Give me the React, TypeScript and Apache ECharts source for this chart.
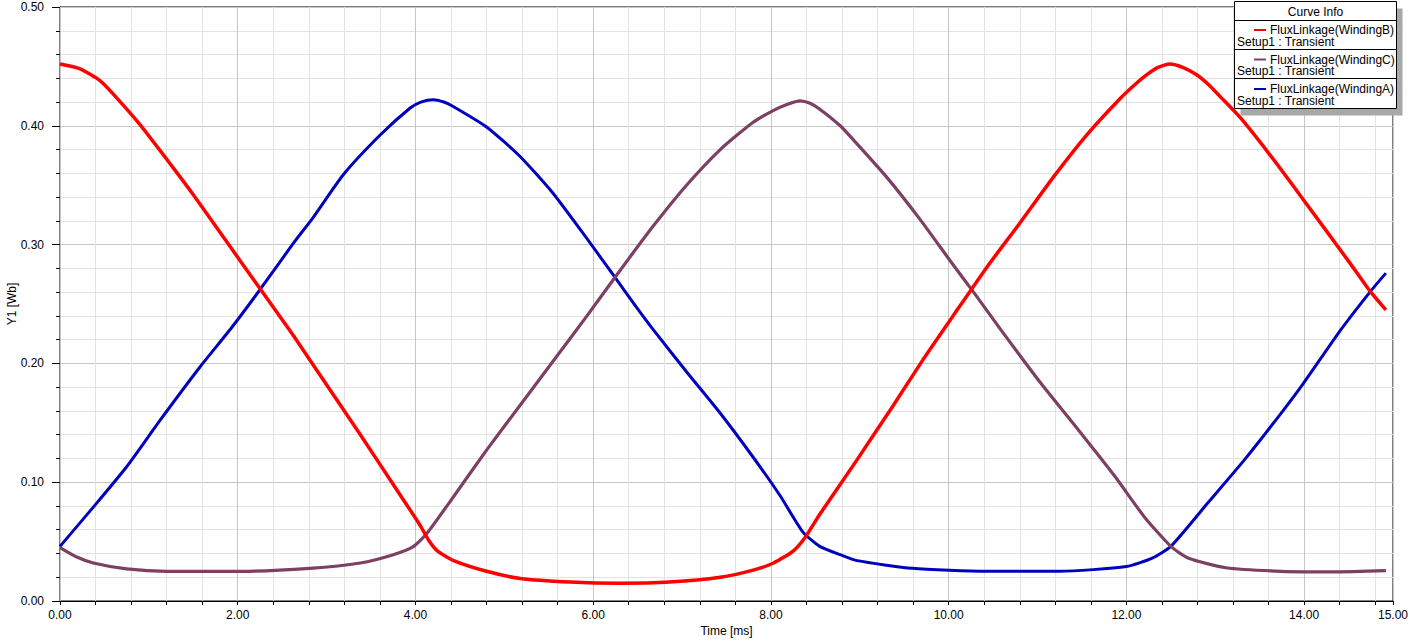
import React, { useEffect, useRef } from "react";
import * as echarts from "echarts";

// ---- data ----
const timeB = [0, 0.225, 0.45, 0.62, 0.9, 1.24, 1.5, 1.88, 2.25, 2.63, 3.0, 3.38, 3.75, 4.05, 4.15, 4.25, 4.43, 4.8, 5.18, 5.74, 6.3, 6.86, 7.43, 7.8, 8.03, 8.25, 8.38, 8.55, 8.97, 9.38, 9.71, 10.05, 10.43, 10.8, 11.18, 11.55, 11.93, 12.1, 12.23, 12.35, 12.49, 12.64, 12.79, 12.92, 13.05, 13.28, 13.6, 13.95, 14.52, 14.74, 14.92];
const fluxB = [0.452, 0.448, 0.438, 0.425, 0.401, 0.368, 0.342, 0.302, 0.263, 0.223, 0.182, 0.140, 0.098, 0.064, 0.051, 0.042, 0.034, 0.025, 0.019, 0.016, 0.015, 0.016, 0.020, 0.026, 0.032, 0.042, 0.053, 0.073, 0.119, 0.165, 0.203, 0.240, 0.281, 0.318, 0.357, 0.392, 0.423, 0.435, 0.443, 0.449, 0.452, 0.449, 0.443, 0.435, 0.425, 0.407, 0.377, 0.342, 0.284, 0.261, 0.245];

const timeC = [0, 0.19, 0.375, 0.75, 1.2, 2.03, 2.81, 3.38, 3.75, 3.98, 4.13, 4.43, 4.8, 5.18, 5.55, 5.93, 6.3, 6.68, 7.05, 7.43, 7.8, 8.03, 8.18, 8.33, 8.44, 8.55, 8.78, 8.93, 9.3, 9.68, 10.05, 10.28, 10.59, 11.04, 11.46, 11.87, 12.2, 12.5, 12.7, 13.12, 13.74, 14.36, 14.92];
const fluxC = [0.045, 0.037, 0.032, 0.027, 0.025, 0.025, 0.0275, 0.032, 0.039, 0.046, 0.057, 0.088, 0.127, 0.165, 0.202, 0.240, 0.278, 0.316, 0.350, 0.380, 0.403, 0.413, 0.418, 0.421, 0.419, 0.414, 0.400, 0.388, 0.357, 0.321, 0.283, 0.260, 0.228, 0.183, 0.144, 0.105, 0.071, 0.046, 0.036, 0.028, 0.025, 0.0245, 0.0255];

const timeA = [0, 0.375, 0.75, 1.125, 1.575, 1.93, 2.25, 2.625, 2.85, 3.19, 3.6, 3.94, 4.06, 4.2, 4.32, 4.43, 4.8, 5.18, 5.55, 5.93, 6.23, 6.49, 6.68, 7.05, 7.43, 7.8, 8.1, 8.36, 8.55, 8.78, 8.97, 9.59, 10.42, 11.25, 12.0, 12.29, 12.5, 12.91, 13.33, 13.74, 13.99, 14.41, 14.74, 14.92];
const fluxA = [0.046, 0.079, 0.113, 0.152, 0.197, 0.230, 0.262, 0.301, 0.323, 0.359, 0.392, 0.415, 0.420, 0.422, 0.420, 0.416, 0.399, 0.374, 0.343, 0.305, 0.274, 0.247, 0.228, 0.193, 0.158, 0.121, 0.089, 0.058, 0.046, 0.039, 0.034, 0.0275, 0.025, 0.025, 0.029, 0.036, 0.046, 0.082, 0.119, 0.158, 0.183, 0.228, 0.260, 0.276];

const curveNames = ["FluxLinkage(WindingB)", "FluxLinkage(WindingC)", "FluxLinkage(WindingA)"];
const curveColors = ["#ff0000", "#7d4063", "#0000bf"];
const setupLabel = "Setup1 : Transient";
const legendTitle = "Curve Info";
const xAxisName = "Time [ms]";
const yAxisName = "Y1 [Wb]";

const FONT = "'Liberation Sans', Arial, sans-serif";

const zip = (t: number[], v: number[]) => t.map((x, i) => [x, v[i]]);

export default function App() {
  const ref = useRef<HTMLDivElement>(null);
  useEffect(() => {
    if (!ref.current) return;
    const chart = echarts.init(ref.current, null, { renderer: "svg" });

    const legendEls: any[] = [];
    const bx = 1234.5, by = 1.5, bw = 162, bh = 107;
    legendEls.push({ type: "rect", shape: { x: bx + 6, y: by + 7, width: bw, height: bh }, style: { fill: "#a8a8a8" }, z: 100 });
    legendEls.push({ type: "rect", shape: { x: bx, y: by, width: bw, height: bh }, style: { fill: "#fff", stroke: "#000", lineWidth: 1 }, z: 101 });
    legendEls.push({ type: "text", x: bx + bw / 2, y: 11.5, style: { text: legendTitle, font: `12px ${FONT}`, fill: "#000", align: "center", verticalAlign: "middle" }, z: 102 });
    const seps = [20.5, 49.5, 78.5];
    seps.forEach((y) => legendEls.push({ type: "line", shape: { x1: bx, y1: y, x2: bx + bw, y2: y }, style: { stroke: "#000", lineWidth: 1 }, z: 102 }));
    curveNames.forEach((name, i) => {
      const y = 30 + 29.5 * i;
      legendEls.push({ type: "line", shape: { x1: 1254, y1: y, x2: 1266, y2: y }, style: { stroke: curveColors[i], lineWidth: 2 }, z: 102 });
      legendEls.push({ type: "text", x: 1270, y, style: { text: name, font: `12px ${FONT}`, fill: "#000", verticalAlign: "middle" }, z: 102 });
      legendEls.push({ type: "text", x: 1237, y: y + 11.5, style: { text: setupLabel, font: `12px ${FONT}`, fill: "#000", verticalAlign: "middle" }, z: 102 });
    });

    const option: any = {
      animation: false,
      backgroundColor: "#fff",
      textStyle: { fontFamily: FONT },
      grid: { left: 60, right: 26, top: 7, bottom: 40, containLabel: false, outerBoundsMode: "none", show: true, borderColor: "#000", borderWidth: 1, backgroundColor: "transparent" },
      xAxis: [
        {
          type: "value", min: 0, max: 15, interval: 0.4, z: 0,
          axisLine: { show: false },
          axisLabel: { show: false },
          axisTick: { show: true, length: 4, lineStyle: { color: "#000" } },
          splitLine: { show: true, lineStyle: { color: "#e3e3e3", width: 1 } },
        },
        {
          type: "value", min: 0, max: 15, interval: 2, z: 1, position: "bottom",
          name: xAxisName, nameLocation: "middle", nameGap: 24, nameMoveOverlap: false,
          nameTextStyle: { color: "#000", fontSize: 12, fontFamily: FONT },
          axisLine: { show: true, lineStyle: { color: "#000", width: 1 } },
          axisTick: { show: false },
          axisLabel: { color: "#000", fontSize: 12, fontFamily: FONT, margin: 8, formatter: (v: number) => v.toFixed(2) },
          splitLine: { show: true, lineStyle: { color: "#c6c6c6", width: 1 } },
        },
      ],
      yAxis: {
        type: "value", min: 0, max: 0.5, interval: 0.1,
        name: yAxisName, nameLocation: "middle", nameGap: 42, nameMoveOverlap: false,
        nameTextStyle: { color: "#000", fontSize: 12, fontFamily: FONT },
        axisLine: { show: true, lineStyle: { color: "#000", width: 1 } },
        axisTick: { show: true, length: 8, lineStyle: { color: "#000" } },
        minorTick: { show: true, splitNumber: 5, length: 4, lineStyle: { color: "#000" } },
        axisLabel: { color: "#000", fontSize: 12, fontFamily: FONT, margin: 16, formatter: (v: number) => v.toFixed(2) },
        splitLine: { show: true, lineStyle: { color: "#c6c6c6", width: 1 } },
        minorSplitLine: { show: true, lineStyle: { color: "#e3e3e3", width: 1 } },
      },
      series: [
        { name: curveNames[2], type: "line", xAxisIndex: 1, data: zip(timeA, fluxA), showSymbol: false, smooth: 0.2, lineStyle: { color: curveColors[2], width: 3 }, itemStyle: { color: curveColors[2] } },
        { name: curveNames[1], type: "line", xAxisIndex: 1, data: zip(timeC, fluxC), showSymbol: false, smooth: 0.2, lineStyle: { color: curveColors[1], width: 3.2 }, itemStyle: { color: curveColors[1] } },
        { name: curveNames[0], type: "line", xAxisIndex: 1, data: zip(timeB, fluxB), showSymbol: false, smooth: 0.2, lineStyle: { color: curveColors[0], width: 3.5 }, itemStyle: { color: curveColors[0] } },
      ],
      graphic: legendEls,
    };
    chart.setOption(option);
    return () => chart.dispose();
  }, []);
  return <div ref={ref} style={{ position: "fixed", left: 0, top: 0, width: 1419, height: 641, background: "#fff" }} />;
}
